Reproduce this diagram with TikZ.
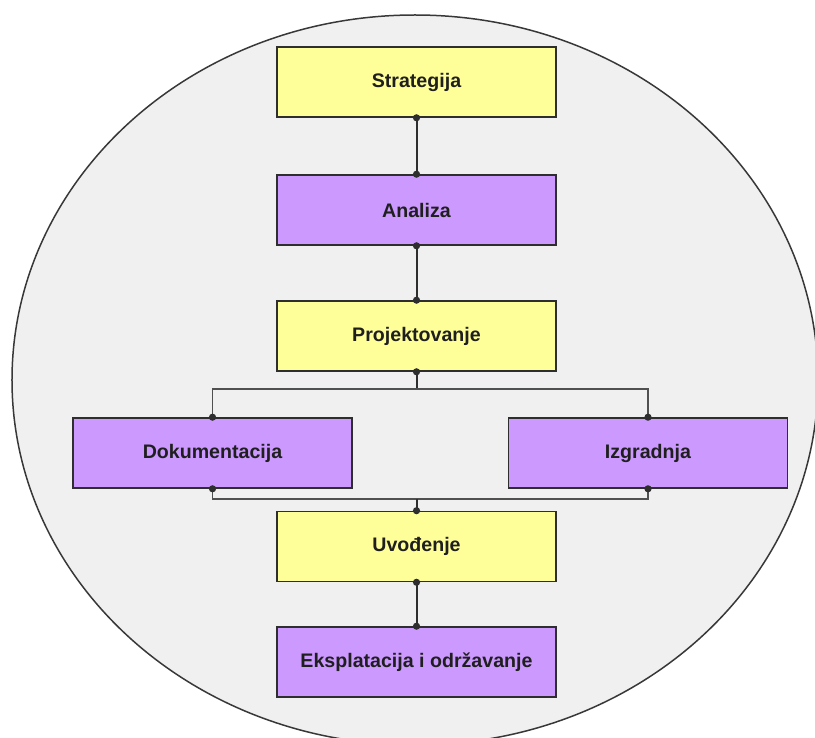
\documentclass[tikz,border=0pt]{standalone}
\usepackage{fontspec}
\setmainfont{Liberation Sans}
\definecolor{stageYellow}{HTML}{FFFF99}
\definecolor{stagePurple}{HTML}{CC99FF}
\definecolor{cycleGray}{HTML}{F0F0F0}
\definecolor{lineDark}{HTML}{2E2E2E}
\definecolor{lineMid}{HTML}{505050}
\begin{document}
\begin{tikzpicture}[x=1bp,y=-1bp,
  stagebox/.style={draw=lineDark, line width=1.6bp, minimum width=279bp,
    minimum height=70bp, inner sep=0pt, text=black!88,
    font=\bfseries\fontsize{19.6bp}{23bp}\selectfont},
  yellowbox/.style={stagebox, fill=stageYellow},
  purplebox/.style={stagebox, fill=stagePurple},
  mainlink/.style={draw=lineDark, line width=2bp},
  sidelink/.style={draw=lineMid, line width=1.3bp},
  joint/.style={fill=lineDark}
]
\useasboundingbox (0,0) rectangle (815,738);

% background cycle
\begin{scope}
  \clip (0,0) rectangle (815,738);
  \draw[fill=cycleGray, draw=black!78, line width=1.5bp]
    (415,380) ellipse [x radius=403bp, y radius=365bp];
\end{scope}

% stages
\node[yellowbox] (s) at (416.5,82)  {Strategija};
\node[purplebox] (a) at (416.5,210) {Analiza};
\node[yellowbox] (p) at (416.5,336) {Projektovanje};
\node[purplebox] (d) at (212.5,453) {Dokumentacija};
\node[purplebox] (g) at (648,453)   {Izgradnja};
\node[yellowbox] (u) at (416.5,546.5) {Uvođenje};
\node[purplebox] (e) at (416.5,662) {Eksplatacija i održavanje};

\coordinate (split) at (416.5,389);
\coordinate (merge) at (416.5,499);

% connectors
\draw[mainlink] (s.south) -- (a.north);
\draw[mainlink] (a.south) -- (p.north);
\draw[mainlink] (p.south) -- (split);
\draw[sidelink] (split) -| (d.north);
\draw[sidelink] (split) -| (g.north);
\draw[sidelink] (d.south) |- (merge);
\draw[sidelink] (g.south) |- (merge);
\draw[mainlink] (merge) -- (u.north);
\draw[mainlink] (u.south) -- (e.north);

% connection points
\foreach \pt in {s.south,a.north,a.south,p.north,p.south,d.north,g.north,
                 d.south,g.south,u.north,u.south,e.north}
  \fill[joint] (\pt) circle[radius=3.6bp];
\end{tikzpicture}
\end{document}
